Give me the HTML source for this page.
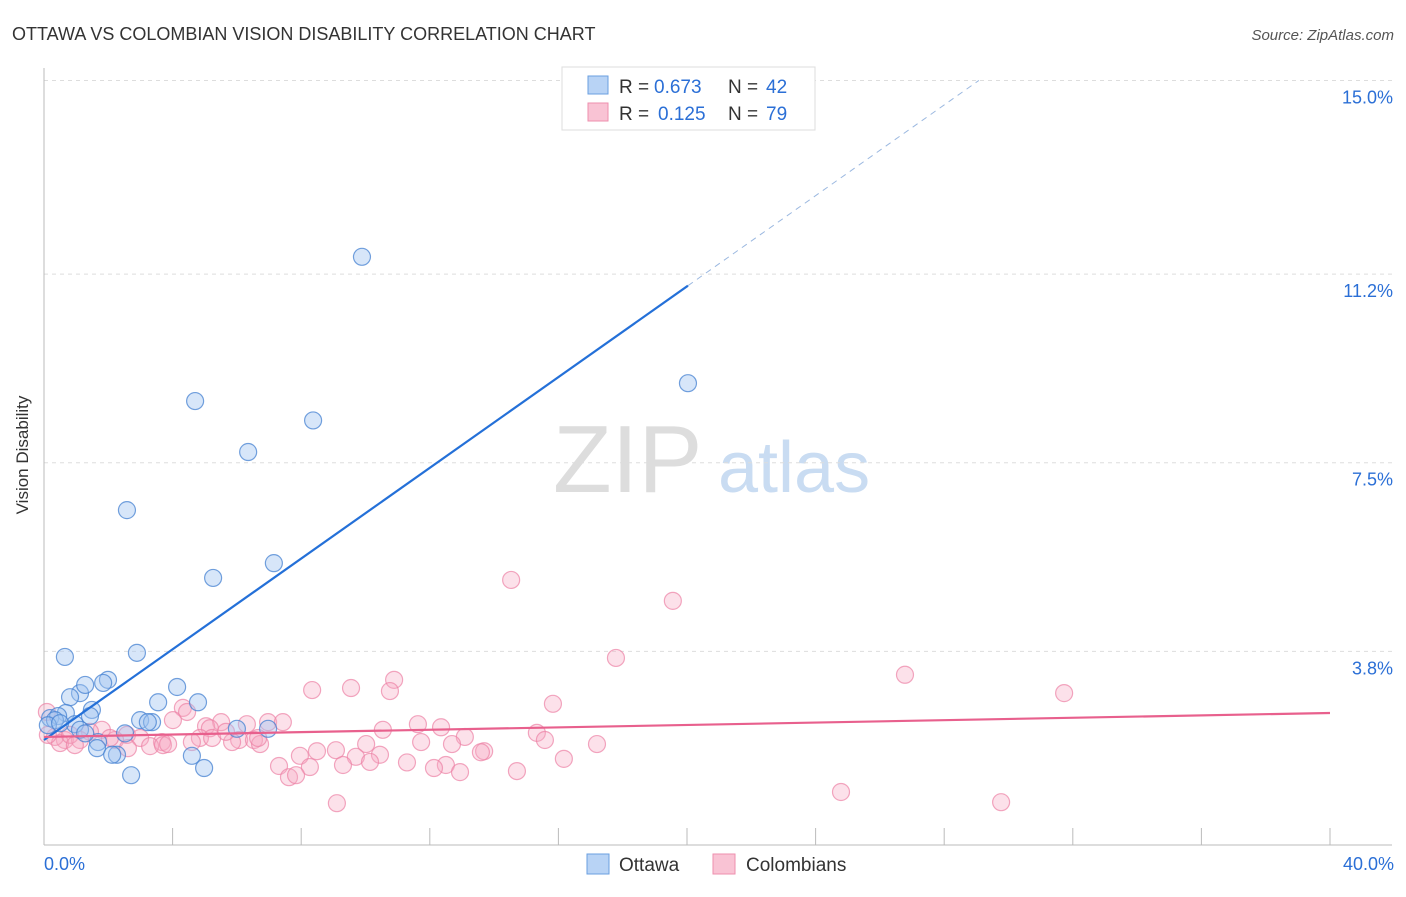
<!DOCTYPE html>
<html><head><meta charset="utf-8"><style>
body{margin:0;background:#fff;font-family:"Liberation Sans",sans-serif}
svg text{font-family:"Liberation Sans",sans-serif}
</style></head><body>
<svg id="c" width="1406" height="892">
<text x="12" y="40" font-size="18" fill="#333">OTTAWA VS COLOMBIAN VISION DISABILITY CORRELATION CHART</text>
<text x="1394" y="40" font-size="15" fill="#555" font-style="italic" text-anchor="end">Source: ZipAtlas.com</text>
<text x="28" y="455" font-size="17" fill="#333" text-anchor="middle" transform="rotate(-90 28 455)">Vision Disability</text>
<g><text x="553" y="492" font-size="96" fill="#ddd" font-family="Liberation Serif">ZIP</text><text x="718" y="492" font-size="72" fill="#c9dcf2">atlas</text></g>
<g id="grid"></g><g id="marks"></g>
<g>
<rect x="562" y="67" width="253" height="63" fill="#fff" stroke="#ddd"/>
<rect x="588" y="76" width="20" height="18" fill="#b8d3f5" stroke="#6a9fe0"/>
<rect x="588" y="103" width="20" height="18" fill="#f9c3d4" stroke="#ee8fae"/>
<text x="619" y="93" font-size="19" fill="#333">R =</text><text x="654" y="93" font-size="19" fill="#2b6fd6">0.673</text>
<text x="728" y="93" font-size="19" fill="#333">N =</text><text x="766" y="93" font-size="19" fill="#2b6fd6">42</text>
<text x="619" y="120" font-size="19" fill="#333">R =</text><text x="658" y="120" font-size="19" fill="#2b6fd6">0.125</text>
<text x="728" y="120" font-size="19" fill="#333">N =</text><text x="766" y="120" font-size="19" fill="#2b6fd6">79</text>
</g>
<g>
<rect x="587" y="854" width="22" height="20" fill="#b8d3f5" stroke="#6a9fe0"/>
<text x="619" y="871" font-size="19" fill="#333">Ottawa</text>
<rect x="713" y="854" width="22" height="20" fill="#f9c3d4" stroke="#ee8fae"/>
<text x="746" y="871" font-size="19" fill="#333">Colombians</text>
</g>
</svg>
<script>
const yTicks=[15.0,11.2,7.5,3.8];
const yTickLabels=["15.0%","11.2%","7.5%","3.8%"];
const xTickLabels=["0.0%","40.0%"];
const ottawaX=[9.89,20.03,4.70,8.37,6.35,2.58,5.26,7.15,0.65,2.89,1.12,1.99,1.84,1.28,0.81,4.14,3.55,4.79,1.49,0.68,1.43,0.19,0.44,2.99,3.36,3.23,0.96,2.52,6.97,6.00,1.12,1.68,1.65,2.27,2.12,4.60,4.98,2.71,0.34,0.12,0.50,1.28];
const ottawaY=[11.54,9.06,8.71,8.33,7.71,6.57,5.24,5.53,3.69,3.77,2.98,3.24,3.18,3.14,2.90,3.10,2.80,2.80,2.65,2.59,2.53,2.49,2.53,2.45,2.41,2.41,2.37,2.19,2.28,2.28,2.26,2.02,1.90,1.77,1.77,1.75,1.51,1.37,2.45,2.35,2.39,2.19];
const colX=[14.53,19.56,17.79,26.78,31.73,10.89,9.55,8.34,10.76,15.83,4.32,4.45,0.09,4.01,5.51,5.04,6.97,7.43,6.31,5.16,11.63,12.35,10.54,15.33,1.80,1.43,2.58,2.99,3.67,13.09,15.58,4.85,5.23,6.07,6.53,6.72,2.21,0.65,0.34,1.12,11.73,10.02,12.69,17.20,5.85,3.30,3.70,2.61,3.86,13.69,8.49,10.45,7.96,9.08,9.70,13.59,11.29,16.17,7.31,9.30,10.14,12.50,8.27,12.13,12.94,14.71,7.62,7.84,24.79,29.77,9.11,0.50,0.81,2.05,4.60,5.66,6.66,0.96,0.12];
const colY=[5.20,4.79,3.67,3.34,2.98,3.24,3.08,3.04,3.02,2.77,2.69,2.61,2.61,2.45,2.41,2.33,2.41,2.41,2.37,2.29,2.37,2.31,2.26,2.20,2.26,2.22,2.16,2.10,2.02,2.12,2.06,2.10,2.10,2.06,2.06,1.98,2.06,2.06,2.12,2.06,2.02,1.98,1.98,1.98,2.02,1.94,1.96,1.90,1.98,1.84,1.84,1.77,1.75,1.86,1.73,1.82,1.62,1.69,1.55,1.57,1.63,1.57,1.53,1.51,1.43,1.45,1.33,1.37,1.04,0.84,0.82,2.00,2.16,2.10,2.02,2.22,2.10,1.96,2.16];
const ottawaFit=[2.06,0.445];
const colFit=[2.12,0.01175];
const X=v=>44+v*32.15, Y=v=>845-v*50.97;
const NS="http://www.w3.org/2000/svg";
function mk(tag,attrs,parent){const e=document.createElementNS(NS,tag);for(const k in attrs)e.setAttribute(k,attrs[k]);parent.appendChild(e);return e;}
const g=document.getElementById('grid'), m=document.getElementById('marks');
yTicks.forEach((t,i)=>{
 const l=mk('line',{x1:44,x2:1392,y1:Y(t),y2:Y(t),stroke:'#ddd','stroke-dasharray':'4,4'},g);
 
 
 const tx=mk('text',{x:1393,y:Y(t)+23,'font-size':18,fill:'#2b6fd6','text-anchor':'end'},g);
 tx.textContent=yTickLabels[i];
 
 
});
let ax=mk('line',{x1:44,x2:44,y1:68,y2:845,stroke:'#bbb'},g);


ax=mk('line',{x1:44,x2:1392,y1:845,y2:845,stroke:'#bbb'},g);


for(let i=0;i<=10;i++){const t=mk('line',{x1:X(i*4),x2:X(i*4),y1:828,y2:845,stroke:'#bbb'},g);
 
 }
[[0,'start',44],[1,'end',1394]].forEach(([i,a,x])=>{const t=mk('text',{x:x,y:870,'font-size':18,fill:'#2b6fd6','text-anchor':a},g);t.textContent=xTickLabels[i];
 
 });
colX.forEach((x,i)=>{const c=mk('circle',{cx:X(x),cy:Y(colY[i]),r:8.5,fill:'rgba(246,170,195,0.35)',stroke:'rgba(236,130,165,0.7)','stroke-width':1.2},m);
 
 });
ottawaX.forEach((x,i)=>{const c=mk('circle',{cx:X(x),cy:Y(ottawaY[i]),r:8.5,fill:'rgba(160,196,240,0.42)',stroke:'rgba(70,130,210,0.75)','stroke-width':1.2},m);
 
 });
const xe=20.03, xd=(15-ottawaFit[0])/ottawaFit[1];
let l=mk('line',{x1:X(0),y1:Y(ottawaFit[0]),x2:X(xe),y2:Y(ottawaFit[0]+ottawaFit[1]*xe),stroke:'#2470d8','stroke-width':2.2},m);


l=mk('line',{x1:X(xe),y1:Y(ottawaFit[0]+ottawaFit[1]*xe),x2:X(xd),y2:Y(15),stroke:'#9bb8e0','stroke-width':1,'stroke-dasharray':'6,5'},m);


l=mk('line',{x1:X(0),y1:Y(colFit[0]),x2:X(40),y2:Y(colFit[0]+colFit[1]*40),stroke:'#e8608d','stroke-width':2.2},m);


</script>
</body></html>
